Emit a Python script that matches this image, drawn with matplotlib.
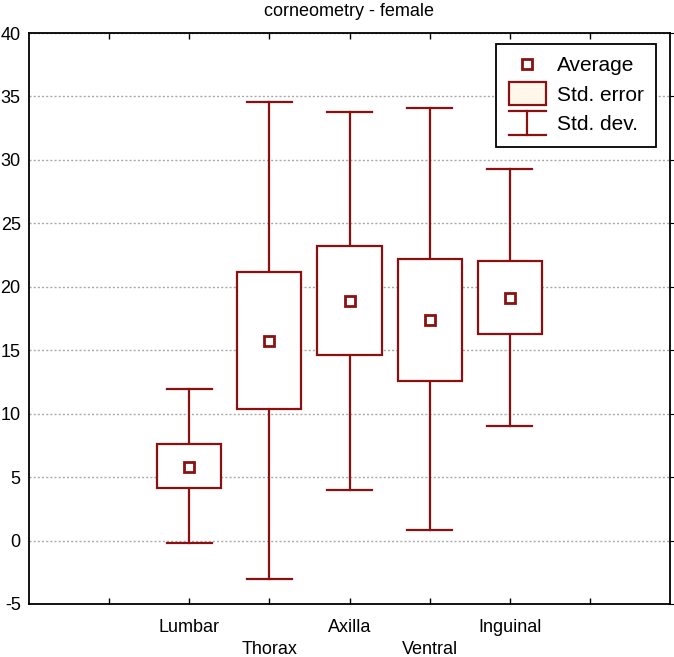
import numpy as np
import matplotlib
matplotlib.use("Agg")
import matplotlib.pyplot as plt
from matplotlib.patches import Rectangle
from matplotlib.lines import Line2D
from matplotlib.legend_handler import HandlerBase

plt.rcParams['font.family'] = ['Liberation Sans', 'DejaVu Sans']
plt.rcParams['axes.unicode_minus'] = False

# ---- data ----
sites = ["Lumbar", "Thorax", "Axilla", "Ventral", "Inguinal"]
average = [5.8, 15.7, 18.9, 17.4, 19.1]
se_low = [4.14, 10.4, 14.6, 12.6, 16.3]
se_high = [7.6, 21.2, 23.2, 22.2, 22.0]
sd_low = [-0.2, -3.0, 4.0, 0.8, 9.05]
sd_high = [11.95, 34.6, 33.75, 34.1, 29.3]

RED = "#8b1010"
BOX_W = 0.8
CAP_W = 0.56


class StdDevHandler(HandlerBase):
    def create_artists(self, legend, orig, xd, yd, width, height, fontsize, trans):
        cx = xd + width / 2
        y0 = yd - height * 0.3
        y1 = yd + height * 1.3
        hw = width * 0.5
        arts = [
            Line2D([cx, cx], [y0, y1], color=RED, lw=1.6),
            Line2D([cx - hw, cx + hw], [y0, y0], color=RED, lw=1.6),
            Line2D([cx - hw, cx + hw], [y1, y1], color=RED, lw=1.6),
        ]
        for a in arts:
            a.set_transform(trans)
        return arts


class BoxHandler(HandlerBase):
    def create_artists(self, legend, orig, xd, yd, width, height, fontsize, trans):
        r = Rectangle((xd, yd - height * 0.3), width, height * 1.6,
                      facecolor="#fff8ea", edgecolor=RED, lw=1.6, transform=trans)
        return [r]


fig = plt.figure(figsize=(6.74, 6.57), dpi=100)
ax = fig.add_axes([29 / 674, 53 / 657, 641 / 674, 571 / 657])

x = np.arange(1, len(sites) + 1)
for xi, m, sl, sh, dl, dh in zip(x, average, se_low, se_high, sd_low, sd_high):
    ax.plot([xi, xi], [dl, sl], color=RED, lw=1.6, zorder=3)
    ax.plot([xi, xi], [sh, dh], color=RED, lw=1.6, zorder=3)
    ax.plot([xi - CAP_W / 2, xi + CAP_W / 2], [dl, dl], color=RED, lw=1.6, zorder=3)
    ax.plot([xi - CAP_W / 2, xi + CAP_W / 2], [dh, dh], color=RED, lw=1.6, zorder=3)
    ax.add_patch(Rectangle((xi - BOX_W / 2, sl), BOX_W, sh - sl,
                           facecolor="white", edgecolor=RED, lw=1.6, zorder=3))
ax.plot(x, average, ls="none", marker="s", ms=6.5, mfc="white", mec=RED, mew=2, zorder=4)

ax.set_xlim(-1, 7)
ax.set_ylim(-5, 40)
ax.set_yticks(np.arange(-5, 41, 5))
ax.set_xticks(np.arange(0, 7))
ax.set_xticklabels([])
ax.grid(axis="y", color="#aaaaaa", ls=(0, (1.5, 1.5)), lw=1)
ax.set_axisbelow(True)
ax.tick_params(axis="x", direction="in", top=True, length=4, width=1)
ax.tick_params(axis="y", left=False, right=True, direction="out", length=3,
               labelsize=13, pad=3)
for s in ax.spines.values():
    s.set_linewidth(1.3)

for i, (xi, name) in enumerate(zip(x, sites)):
    off = -23 if i % 2 == 0 else -46
    ax.annotate(name, xy=(xi, 0), xycoords=("data", "axes fraction"),
                xytext=(0, off), textcoords="offset pixels",
                ha="center", va="center", fontsize=13)

ax.set_title("corneometry - female", fontsize=13, pad=12)

h_avg = Line2D([], [], ls="none", marker="s", ms=6.5, mfc="white", mec=RED, mew=2)
h_se = Rectangle((0, 0), 1, 1)
h_sd = Line2D([], [])
leg = ax.legend([h_avg, h_se, h_sd], ["Average", "Std. error", "Std. dev."],
                handler_map={h_se: BoxHandler(), h_sd: StdDevHandler()},
                loc="upper right", bbox_to_anchor=(0.978, 0.981), fontsize=15,
                frameon=True, fancybox=False, edgecolor="black", framealpha=1,
                handlelength=1.8, handletextpad=0.5, labelspacing=0.5,
                borderpad=0.6, borderaxespad=0)
leg.get_frame().set_linewidth(1.3)

fig.savefig("out.png", dpi=100)
